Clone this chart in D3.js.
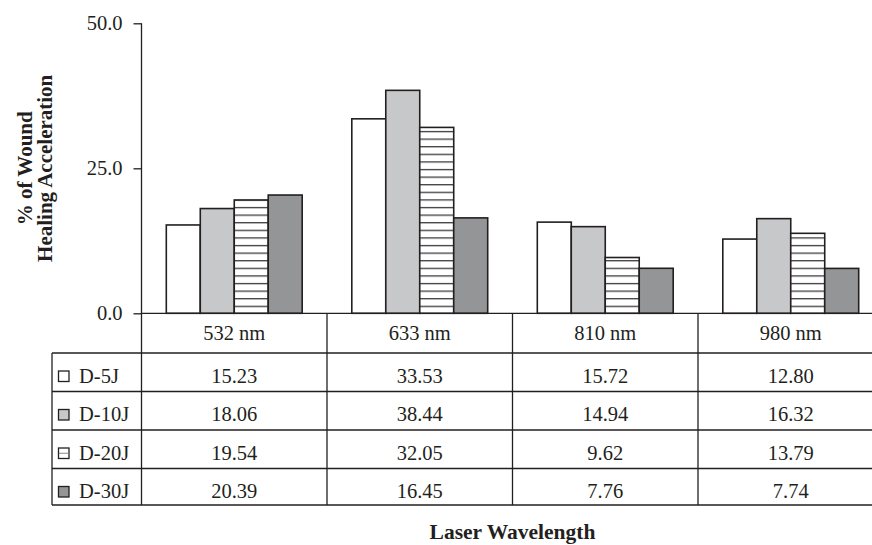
<!DOCTYPE html>
<html><head><meta charset="utf-8">
<script src="https://cdn.jsdelivr.net/npm/d3@7"></script>
<style>
html,body{margin:0;padding:0;background:#fff;}
svg{display:block;}
text{font-family:"Liberation Serif","Times New Roman",serif;fill:#231f20;}
</style></head>
<body>
<svg id="chart" width="872" height="545"></svg>
<script>
const categories = ["532 nm", "633 nm", "810 nm", "980 nm"];
const seriesNames = ["D-5J", "D-10J", "D-20J", "D-30J"];
const d5J  = [15.23, 33.53, 15.72, 12.80];
const d10J = [18.06, 38.44, 14.94, 16.32];
const d20J = [19.54, 32.05, 9.62, 13.79];
const d30J = [20.39, 16.45, 7.76, 7.74];
const yTicks = [0, 25, 50];
const yTitle = ["% of Wound", "Healing Acceleration"];
const xTitle = "Laser Wavelength";

const seriesValues = [d5J, d10J, d20J, d30J];
const fills = ["#ffffff", "#c7c8ca", "url(#stripes)", "#949597"];
const ink = "#231f20";
const fs = 20.5;

const svg = d3.select("#chart");
const left = 141.5, right = 883.5, y0px = 313.3, y50px = 23.3;
const tableLeft = 52, rowTops = [313.3, 353, 391.5, 430, 468.5, 505];

const defs = svg.append("defs");
const pat = defs.append("pattern").attr("id", "stripes")
  .attr("patternUnits", "userSpaceOnUse").attr("width", 10).attr("height", 7.6)
  .attr("y", y0px);
pat.append("rect").attr("width", 10).attr("height", 7.6).attr("fill", "#fff");
pat.append("line").attr("x1", 0).attr("x2", 10).attr("y1", 0.5).attr("y2", 0.5)
  .attr("stroke", "#3a3a3c").attr("stroke-width", 1.6);

const x0 = d3.scaleBand().domain(categories).range([left, right]).padding(0);
const x1 = d3.scaleBand().domain(seriesNames).range([0, x0.bandwidth()]).paddingInner(0).paddingOuter(0.73);
const y = d3.scaleLinear().domain([0, 50]).range([y0px, y50px]);

// bars
const gBars = svg.append("g");
seriesNames.forEach((s, si) => {
  gBars.selectAll(null).data(categories).enter().append("rect")
    .attr("x", c => x0(c) + x1(s))
    .attr("y", (c, ci) => y(seriesValues[si][ci]))
    .attr("width", x1.bandwidth())
    .attr("height", (c, ci) => y(0) - y(seriesValues[si][ci]))
    .attr("fill", fills[si])
    .attr("stroke", ink).attr("stroke-width", 1.6);
});

// y axis
const yAxis = d3.axisLeft(y).tickValues(yTicks).tickFormat(d3.format(".1f")).tickSize(8).tickPadding(11);
const gy = svg.append("g").attr("transform", `translate(${left},0)`).call(yAxis);
gy.select(".domain").remove();
gy.selectAll(".tick line").attr("stroke", ink).attr("stroke-width", 1.3);
gy.selectAll(".tick text").attr("font-size", fs).attr("font-family", "Liberation Serif").attr("fill", ink);
svg.append("line").attr("x1", left).attr("x2", left).attr("y1", y50px).attr("y2", rowTops[5])
  .attr("stroke", ink).attr("stroke-width", 1.3);

// table lines
const gT = svg.append("g").attr("stroke", ink).attr("stroke-width", 1.3);
gT.append("line").attr("x1", left).attr("x2", right).attr("y1", y0px).attr("y2", y0px);
rowTops.slice(1).forEach(t => {
  gT.append("line").attr("x1", tableLeft).attr("x2", right).attr("y1", t).attr("y2", t);
});
gT.append("line").attr("x1", tableLeft).attr("x2", tableLeft).attr("y1", rowTops[1]).attr("y2", rowTops[5]);
categories.forEach(c => {
  gT.append("line").attr("x1", x0(c) + x0.bandwidth()).attr("x2", x0(c) + x0.bandwidth())
    .attr("y1", y0px).attr("y2", rowTops[5]);
});

// header text
svg.append("g").selectAll("text").data(categories).enter().append("text")
  .attr("x", c => x0(c) + x0.bandwidth() / 2).attr("y", rowTops[0] + 27)
  .attr("text-anchor", "middle").attr("font-size", fs).text(c => c);

// rows
seriesNames.forEach((s, si) => {
  const top = rowTops[si + 1];
  const g = svg.append("g");
  g.append("rect").attr("x", 58.5).attr("y", top + 18).attr("width", 10.5).attr("height", 10.5)
    .attr("fill", si === 2 ? "#fff" : fills[si]).attr("stroke", ink).attr("stroke-width", 1.3);
  if (si === 2) {
    g.append("line").attr("x1", 59).attr("x2", 68.5).attr("y1", top + 23.25).attr("y2", top + 23.25)
      .attr("stroke", "#888").attr("stroke-width", 1);
  }
  g.append("text").attr("x", 79).attr("y", top + 29.5).attr("font-size", fs).text(s);
  g.selectAll(null).data(categories).enter().append("text")
    .attr("x", c => x0(c) + x0.bandwidth() / 2).attr("y", top + 29.5)
    .attr("text-anchor", "middle").attr("font-size", fs)
    .text((c, ci) => seriesValues[si][ci].toFixed(2));
});

// titles
svg.append("text").attr("x", (left + right) / 2).attr("y", 539)
  .attr("text-anchor", "middle").attr("font-size", 21.5).attr("font-weight", "bold").text(xTitle);
const yt = svg.append("text").attr("transform", `translate(0,${(y0px + y50px) / 2}) rotate(-90)`)
  .attr("text-anchor", "middle").attr("font-size", 21).attr("font-weight", "bold");
yt.append("tspan").attr("x", 0).attr("y", 32).text(yTitle[0]);
yt.append("tspan").attr("x", 0).attr("y", 52).text(yTitle[1]);
</script>
</body></html>
